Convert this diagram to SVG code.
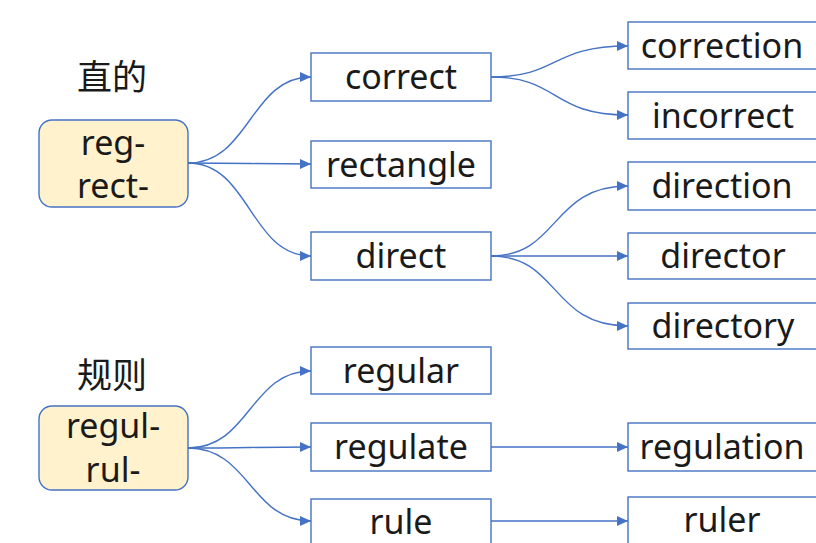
<svg xmlns="http://www.w3.org/2000/svg" width="816" height="543" viewBox="0 0 816 543">
<style>
.box{fill:#ffffff;stroke:#4472C4;stroke-width:1.4}
.root{fill:#FFF2CC;stroke:#4472C4;stroke-width:1.4}
.t{font-family:"Noto Sans","Noto Sans CJK SC",sans-serif;font-size:34px;fill:#1a1a1a;text-anchor:middle}
.zh{font-family:"Noto Sans CJK SC",sans-serif;font-size:35px;fill:#1a1a1a;text-anchor:middle}
.c{fill:none;stroke:#4472C4;stroke-width:1.4;marker-end:url(#arr)}
</style>
<defs>
<marker id="arr" markerUnits="userSpaceOnUse" markerWidth="12" markerHeight="10" refX="11" refY="5" orient="auto">
<path d="M0,0 L11,5 L0,10 z" fill="#4472C4"/>
</marker>
</defs>
<rect width="816" height="543" fill="#ffffff"/>
<g id="connectors">
<path class="c" d="M188,163 C250,163 250,77 311,77"/>
<path class="c" d="M188,163 C250,163 250,164 311,164"/>
<path class="c" d="M188,163 C250,163 250,256 311,256"/>
<path class="c" d="M491,77 C560,77 550,46 628,46"/>
<path class="c" d="M491,77 C560,77 550,115 628,115"/>
<path class="c" d="M491,256 C560,256 550,186 628,186"/>
<path class="c" d="M491,256 L628,256"/>
<path class="c" d="M491,256 C560,256 550,326 628,326"/>
<path class="c" d="M188,448 C250,448 250,371 311,371"/>
<path class="c" d="M188,448 C250,448 250,447 311,447"/>
<path class="c" d="M188,448 C250,448 250,521 311,521"/>
<path class="c" d="M491,447 L628,447"/>
<path class="c" d="M491,521 L628,521"/>
</g>
<g id="label-zhide"><text class="zh" x="112" y="90">直的</text></g>
<g id="root-reg"><rect class="root" x="39" y="120" width="149" height="87" rx="13"/><text class="t" x="113" y="155">reg-</text><text class="t" x="113" y="198">rect-</text></g>
<g id="label-guize"><text class="zh" x="112" y="388">规则</text></g>
<g id="root-regul"><rect class="root" x="39" y="406" width="149" height="84" rx="13"/><text class="t" x="113" y="438">regul-</text><text class="t" x="113" y="482">rul-</text></g>
<g id="n-correct"><rect class="box" x="311" y="53" width="180" height="48"/><text class="t" x="401" y="89">correct</text></g>
<g id="n-rectangle"><rect class="box" x="311" y="141" width="180" height="47"/><text class="t" x="401" y="177">rectangle</text></g>
<g id="n-direct"><rect class="box" x="311" y="232" width="180" height="48"/><text class="t" x="401" y="268">direct</text></g>
<g id="n-regular"><rect class="box" x="311" y="347" width="180" height="47"/><text class="t" x="401" y="383">regular</text></g>
<g id="n-regulate"><rect class="box" x="311" y="423" width="180" height="48"/><text class="t" x="401" y="459">regulate</text></g>
<g id="n-rule"><rect class="box" x="311" y="499" width="180" height="50"/><text class="t" x="401" y="534">rule</text></g>
<g id="n-correction"><rect class="box" x="628" y="22" width="190" height="47"/><text class="t" x="722" y="58">correction</text></g>
<g id="n-incorrect"><rect class="box" x="628" y="92" width="190" height="47"/><text class="t" x="723" y="128">incorrect</text></g>
<g id="n-direction"><rect class="box" x="628" y="162" width="190" height="48"/><text class="t" x="722" y="198">direction</text></g>
<g id="n-director"><rect class="box" x="628" y="233" width="190" height="46"/><text class="t" x="723" y="268">director</text></g>
<g id="n-directory"><rect class="box" x="628" y="303" width="190" height="46"/><text class="t" x="723" y="338">directory</text></g>
<g id="n-regulation"><rect class="box" x="628" y="423" width="190" height="48"/><text class="t" x="722" y="459">regulation</text></g>
<g id="n-ruler"><rect class="box" x="628" y="497" width="190" height="52"/><text class="t" x="722" y="532">ruler</text></g>
</svg>
